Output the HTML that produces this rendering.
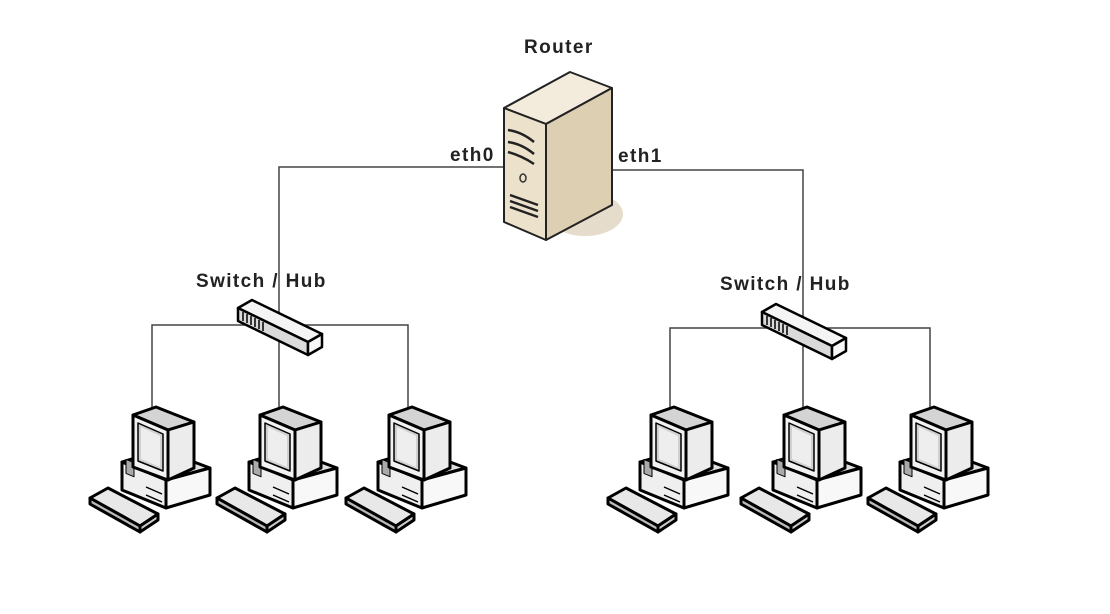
<!DOCTYPE html>
<html><head><meta charset="utf-8"><style>
html,body{margin:0;padding:0;background:#fff;width:1110px;height:614px;overflow:hidden}
text{font-family:"Liberation Sans",Arial,sans-serif;font-weight:bold;fill:#222;letter-spacing:1.4px}
</style></head><body>
<svg width="1110" height="614" viewBox="0 0 1110 614" xmlns="http://www.w3.org/2000/svg">
<defs>
<g id="pc" stroke="#000" stroke-width="3" stroke-linejoin="round">
  <polygon points="-30,52 10,40 58,58 14,70" fill="#e0e0e0"/>
  <polygon points="-30,52 14,70 14,98 -30,80" fill="#efefef"/>
  <polygon points="14,70 58,58 58,85 14,98" fill="#f8f8f8"/>
  <rect x="-26" y="60" width="8" height="14" fill="#aaa" stroke-width="1" transform="skewY(22)"/>
  <line x1="-6" y1="77" x2="10" y2="84" stroke-width="1.5"/>
  <line x1="-6" y1="85" x2="10" y2="92" stroke-width="1.5"/>
  <polygon points="-19,5 4,-3 42,12 16,20" fill="#d4d4d4"/>
  <polygon points="16,20 42,12 42,58 16,70" fill="#ececec"/>
  <polygon points="-19,5 16,20 16,70 -19,57" fill="#f2f2f2"/>
  <polygon points="-14,13 11,24 11,61 -14,51" fill="#d0d0d0" stroke-width="1.5"/>
  <polygon points="-11,17 8,26 8,57 -11,49" fill="#eeeeee" stroke="none"/>
  <polygon points="-62,88 -44,78 6,104 -12,116" fill="#e8e8e8"/>
  <polygon points="-62,88 -12,116 -12,122 -62,94" fill="#bbb"/>
  <polygon points="-12,116 6,104 6,110 -12,122" fill="#ccc"/>
</g>
<g id="sw" stroke="#000" stroke-width="2.5" stroke-linejoin="round">
  <polygon points="0,8 14,0 84,34 70,42" fill="#f4f4f4"/>
  <polygon points="0,8 70,42 70,55 0,21" fill="#dadada"/>
  <polygon points="70,42 84,34 84,47 70,55" fill="#f8f8f8"/>
  <g stroke-width="1.5">
    <line x1="5" y1="12" x2="5" y2="21"/><line x1="9" y1="14" x2="9" y2="23"/>
    <line x1="13" y1="16" x2="13" y2="25"/><line x1="17" y1="18" x2="17" y2="27"/>
    <line x1="21" y1="20" x2="21" y2="29"/><line x1="25" y1="22" x2="25" y2="31"/>
  </g>
</g>
</defs>
<g stroke="#444" stroke-width="1.5" fill="none">
  <polyline points="503,167 279,167 279,410"/>
  <polyline points="612,170 803,170 803,410"/>
  <polyline points="152,410 152,325 408,325 408,410"/>
  <polyline points="670,410 670,328 930,328 930,410"/>
</g>
<use href="#sw" x="238" y="300"/>
<use href="#sw" x="762" y="304"/>
<use href="#pc" x="152" y="410"/>
<use href="#pc" x="279" y="410"/>
<use href="#pc" x="408" y="410"/>
<use href="#pc" x="670" y="410"/>
<use href="#pc" x="803" y="410"/>
<use href="#pc" x="930" y="410"/>
<ellipse cx="585" cy="214" rx="38" ry="22" fill="#e6dccb"/>
<g stroke="#222" stroke-width="2" stroke-linejoin="round">
  <polygon points="504,108 570,72 612,88 546,124" fill="#f3ecdc"/>
  <polygon points="546,124 612,88 612,205 546,240" fill="#dccfb2"/>
  <polygon points="504,108 546,124 546,240 504,222" fill="#ece2cc"/>
</g>
<g stroke="#222" stroke-width="2.5" fill="none">
  <path d="M508,130 q14,2 26,12"/><path d="M508,142 q14,2 26,12"/>
  <path d="M508,152 q14,4 26,12"/>
  <line x1="510" y1="195" x2="538" y2="205"/><line x1="510" y1="201" x2="538" y2="211"/>
  <line x1="510" y1="207" x2="538" y2="217"/>
</g>
<ellipse cx="523" cy="178" rx="3" ry="4" fill="none" stroke="#333" stroke-width="1.5"/>
<text x="524" y="53" font-size="19">Router</text>
<text x="450" y="161" font-size="19">eth0</text>
<text x="618" y="162" font-size="19">eth1</text>
<text x="196" y="287" font-size="19">Switch / Hub</text>
<text x="720" y="290" font-size="19">Switch / Hub</text>
</svg>
</body></html>
